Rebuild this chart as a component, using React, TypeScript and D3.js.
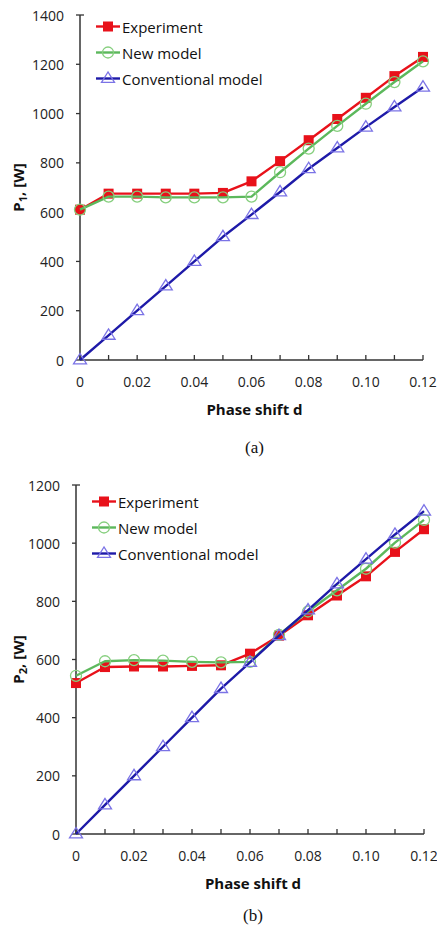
import React from "react";
import * as d3 from "d3";

// Phase shift values (x) shared by both panels
const phaseShift = [0, 0.01, 0.02, 0.03, 0.04, 0.05, 0.06, 0.07, 0.08, 0.09, 0.1, 0.11, 0.12];

// Panel (a): P1 [W]
const p1Experiment = [610, 675, 675, 675, 675, 678, 725, 807, 892, 978, 1064, 1152, 1230];
const p1NewModel = [610, 663, 663, 660, 660, 660, 663, 762, 858, 950, 1040, 1128, 1212];
const p1Conventional = [0, 100, 200, 300, 400, 500, 590, 682, 776, 860, 945, 1027, 1107];

// Panel (b): P2 [W]
const p2Experiment = [519, 574, 576, 576, 578, 580, 620, 682, 752, 820, 886, 970, 1048];
const p2NewModel = [544, 594, 598, 596, 592, 590, 592, 685, 765, 838, 912, 1002, 1080];
const p2Conventional = [0, 100, 200, 300, 400, 500, 590, 682, 770, 860, 945, 1030, 1110];

const xTickLabels = ["0", "0.02", "0.04", "0.06", "0.08", "0.10", "0.12"];
const xTickValues = [0, 0.02, 0.04, 0.06, 0.08, 0.1, 0.12];
const xMinorTicks = phaseShift;
const p1YTicks = [0, 200, 400, 600, 800, 1000, 1200, 1400];
const p2YTicks = [0, 200, 400, 600, 800, 1000, 1200];

const seriesNames = ["Experiment", "New model", "Conventional model"];

const FONT = "'Open Sans', 'DejaVu Sans', sans-serif";
const RED = "#e8111a";
const GREEN_LINE = "#5cb85c";
const GREEN_MARK = "#86cf7e";
const BLUE_LINE = "#1e1aa8";
const BLUE_MARK = "#7b73e6";
const AXIS = "#333";

type PanelProps = {
  left: number;
  right: number;
  top: number;
  bottom: number;
  yMax: number;
  yTicks: number[];
  exp: number[];
  model: number[];
  conv: number[];
  sub: string;
  legendX: number;
  legendY: number;
  labelX: number;
  tag: string;
};

function Marker({ kind, x, y }: { kind: number; x: number; y: number }) {
  if (kind === 0) {
    return <rect x={x - 5} y={y - 5} width={10} height={10} fill={RED} />;
  }
  if (kind === 1) {
    return <circle cx={x} cy={y} r={5.5} fill="none" stroke={GREEN_MARK} strokeWidth={1.3} />;
  }
  const s = 6.5;
  const pts = [
    [x, y - s],
    [x - s, y + s * 0.6],
    [x + s, y + s * 0.6],
  ]
    .map((p) => p.join(","))
    .join(" ");
  return <polygon points={pts} fill="none" stroke={BLUE_MARK} strokeWidth={1.3} />;
}

function Panel(props: PanelProps) {
  const { left, right, top, bottom, yMax, yTicks, exp, model, conv, sub } = props;
  const x = d3.scaleLinear().domain([0, 0.12]).range([left, right]);
  const y = d3.scaleLinear().domain([0, yMax]).range([bottom, top]);
  const line = d3
    .line<number>()
    .x((_, i) => x(phaseShift[i]))
    .y((v) => y(v));

  const series = [
    { data: exp, color: RED, width: 2.4 },
    { data: model, color: GREEN_LINE, width: 2.4 },
    { data: conv, color: BLUE_LINE, width: 2.4 },
  ];
  const legendColors = [RED, GREEN_LINE, BLUE_LINE];
  const midY = (top + bottom) / 2;
  const midX = (left + right) / 2 + 3;

  return (
    <g>
      {/* axes */}
      <line x1={left} x2={right} y1={bottom} y2={bottom} stroke={AXIS} strokeWidth={1.5} />
      <line x1={left} x2={left} y1={bottom} y2={top} stroke={AXIS} strokeWidth={1.5} />
      {xMinorTicks.map((t) => (
        <line key={t} x1={x(t)} x2={x(t)} y1={bottom} y2={bottom - 5} stroke={AXIS} strokeWidth={1.3} />
      ))}
      {yTicks.map((t) => (
        <line key={t} x1={left - 4} x2={left} y1={y(t)} y2={y(t)} stroke={AXIS} strokeWidth={1.3} />
      ))}
      <line x1={left} x2={left + 4} y1={top} y2={top} stroke={AXIS} strokeWidth={1.3} />
      {xTickValues.map((t, i) => (
        <text
          key={t}
          x={x(t)}
          y={bottom + 21}
          textAnchor="middle"
          dominantBaseline="central"
          fontFamily={FONT}
          fontSize={14}
          fill="#222"
        >
          {xTickLabels[i]}
        </text>
      ))}
      {yTicks.map((t) => (
        <text
          key={t}
          x={left - 16}
          y={y(t)}
          textAnchor="end"
          dominantBaseline="central"
          fontFamily={FONT}
          fontSize={14}
          fill="#222"
        >
          {t}
        </text>
      ))}

      {/* series */}
      {series.map((s, k) => (
        <g key={k}>
          <path d={line(s.data) || ""} fill="none" stroke={s.color} strokeWidth={s.width} strokeLinejoin="round" />
          {s.data.map((v, i) => (
            <Marker key={i} kind={k} x={x(phaseShift[i])} y={y(v)} />
          ))}
        </g>
      ))}

      {/* legend */}
      {seriesNames.map((name, k) => {
        const ly = props.legendY + k * 26;
        const lx = props.legendX;
        return (
          <g key={name}>
            <line x1={lx} x2={lx + 24} y1={ly} y2={ly} stroke={legendColors[k]} strokeWidth={2.4} />
            <Marker kind={k} x={lx + 12} y={ly} />
            <text
              x={lx + 26}
              y={ly}
              dominantBaseline="central"
              fontFamily={FONT}
              fontSize={15}
              fill="#111"
            >
              {name}
            </text>
          </g>
        );
      })}

      {/* axis titles */}
      <text
        transform={`translate(${props.labelX},${midY}) rotate(-90)`}
        textAnchor="middle"
        dominantBaseline="central"
        fontFamily={FONT}
        fontSize={15}
        fontWeight="bold"
        fill="#111"
      >
        P
        <tspan fontSize={11} dy={4}>
          {sub}
        </tspan>
        <tspan dy={-4}>, [W]</tspan>
      </text>
      <text
        x={midX}
        y={bottom + 49}
        textAnchor="middle"
        dominantBaseline="central"
        fontFamily={FONT}
        fontSize={15}
        fontWeight="bold"
        fill="#111"
      >
        Phase shift d
      </text>
      <text
        x={midX}
        y={bottom + (props.tag === "(a)" ? 87 : 81)}
        textAnchor="middle"
        dominantBaseline="central"
        fontFamily="'Liberation Serif', 'DejaVu Serif', serif"
        fontSize={17}
        fill="#111"
      >
        {props.tag}
      </text>
    </g>
  );
}

export default function App() {
  return (
    <svg
      width={437}
      height={933}
      viewBox="0 0 437 933"
      style={{ position: "absolute", left: 0, top: 0, background: "#fff" }}
    >
      <rect width={437} height={933} fill="#fff" />
      <Panel
        left={80}
        right={423}
        top={15}
        bottom={360}
        yMax={1400}
        yTicks={p1YTicks}
        exp={p1Experiment}
        model={p1NewModel}
        conv={p1Conventional}
        sub="1"
        legendX={96}
        legendY={26.5}
        labelX={18}
        tag="(a)"
      />
      <Panel
        left={76}
        right={424}
        top={485}
        bottom={834}
        yMax={1200}
        yTicks={p2YTicks}
        exp={p2Experiment}
        model={p2NewModel}
        conv={p2Conventional}
        sub="2"
        legendX={92}
        legendY={501.5}
        labelX={18}
        tag="(b)"
      />
    </svg>
  );
}
